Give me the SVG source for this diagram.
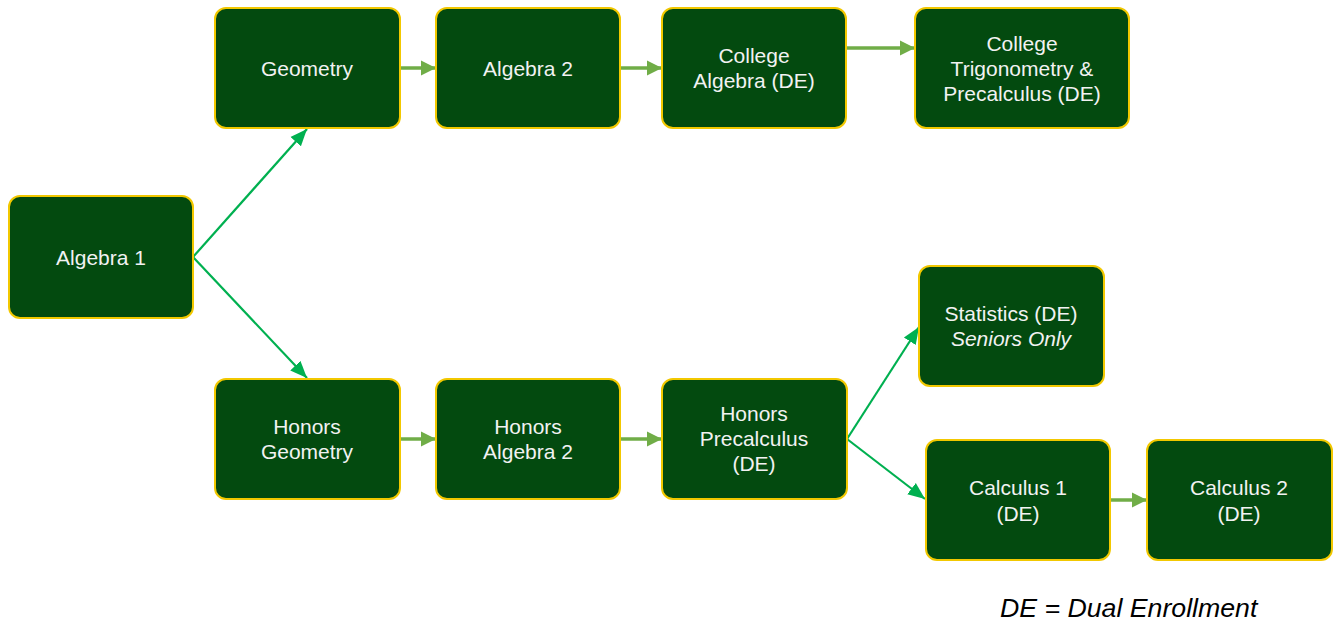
<svg xmlns="http://www.w3.org/2000/svg" width="1338" height="625" viewBox="0 0 1338 625">
<style>
.box{fill:#034a0f;stroke:#f2c800;stroke-width:2}
.t{font-family:"Liberation Sans",Arial,sans-serif;font-size:21px;fill:#f2f2f2;text-anchor:middle}
.i{font-style:italic}
.d{stroke:#00b050;stroke-width:2.2;fill:none}
.h{stroke:#70ad47;stroke-width:3.5;fill:none}
</style>
<defs>
<marker id="ad" markerUnits="userSpaceOnUse" markerWidth="18" markerHeight="16" refX="17" refY="8" orient="auto">
<path d="M0,1 L17,8 L0,15 Z" fill="#00b050"/>
</marker>
<marker id="ah" markerUnits="userSpaceOnUse" markerWidth="16" markerHeight="18" refX="15" refY="9" orient="auto">
<path d="M0,1.5 L15,9 L0,16.5 Z" fill="#70ad47"/>
</marker>
</defs>
<rect width="1338" height="625" fill="#ffffff"/>
<g id="connectors">
<line class="d" x1="193" y1="257" x2="307" y2="129" marker-end="url(#ad)"/>
<line class="d" x1="193" y1="257" x2="307" y2="378" marker-end="url(#ad)"/>
<line class="d" x1="847" y1="439" x2="919" y2="327" marker-end="url(#ad)"/>
<line class="d" x1="847" y1="439" x2="925" y2="499" marker-end="url(#ad)"/>
<line class="h" x1="400" y1="68" x2="436" y2="68" marker-end="url(#ah)"/>
<line class="h" x1="620" y1="68" x2="662" y2="68" marker-end="url(#ah)"/>
<line class="h" x1="846" y1="48" x2="915" y2="48" marker-end="url(#ah)"/>
<line class="h" x1="400" y1="439" x2="436" y2="439" marker-end="url(#ah)"/>
<line class="h" x1="620" y1="439" x2="662" y2="439" marker-end="url(#ah)"/>
<line class="h" x1="1110" y1="500" x2="1147" y2="500" marker-end="url(#ah)"/>
</g>
<g id="algebra1">
<rect class="box" x="9" y="196" width="184" height="122" rx="11"/>
<text class="t" x="101" y="265">Algebra 1</text>
</g>
<g id="geometry">
<rect class="box" x="215" y="8" width="185" height="120" rx="11"/>
<text class="t" x="307" y="76">Geometry</text>
</g>
<g id="algebra2">
<rect class="box" x="436" y="8" width="184" height="120" rx="11"/>
<text class="t" x="528" y="76">Algebra 2</text>
</g>
<g id="collegealgebra">
<rect class="box" x="662" y="8" width="184" height="120" rx="11"/>
<text class="t" x="754" y="63">College</text>
<text class="t" x="754" y="88">Algebra (DE)</text>
</g>
<g id="collegetrig">
<rect class="box" x="915" y="8" width="214" height="120" rx="11"/>
<text class="t" x="1022" y="51">College</text>
<text class="t" x="1022" y="76">Trigonometry &amp;</text>
<text class="t" x="1022" y="101">Precalculus (DE)</text>
</g>
<g id="honorsgeometry">
<rect class="box" x="215" y="379" width="185" height="120" rx="11"/>
<text class="t" x="307" y="434">Honors</text>
<text class="t" x="307" y="459">Geometry</text>
</g>
<g id="honorsalgebra2">
<rect class="box" x="436" y="379" width="184" height="120" rx="11"/>
<text class="t" x="528" y="434">Honors</text>
<text class="t" x="528" y="459">Algebra 2</text>
</g>
<g id="honorsprecalc">
<rect class="box" x="662" y="379" width="185" height="120" rx="11"/>
<text class="t" x="754" y="421">Honors</text>
<text class="t" x="754" y="446">Precalculus</text>
<text class="t" x="754" y="471">(DE)</text>
</g>
<g id="statistics">
<rect class="box" x="919" y="266" width="185" height="120" rx="11"/>
<text class="t" x="1011" y="321">Statistics (DE)</text>
<text class="t i" x="1011" y="346">Seniors Only</text>
</g>
<g id="calculus1">
<rect class="box" x="926" y="440" width="184" height="120" rx="11"/>
<text class="t" x="1018" y="495">Calculus 1</text>
<text class="t" x="1018" y="521">(DE)</text>
</g>
<g id="calculus2">
<rect class="box" x="1147" y="440" width="185" height="120" rx="11"/>
<text class="t" x="1239" y="495">Calculus 2</text>
<text class="t" x="1239" y="521">(DE)</text>
</g>
<text x="1000" y="617" font-family="'Liberation Sans',Arial,sans-serif" font-size="26.7" font-style="italic" fill="#000000">DE = Dual Enrollment</text>
</svg>
